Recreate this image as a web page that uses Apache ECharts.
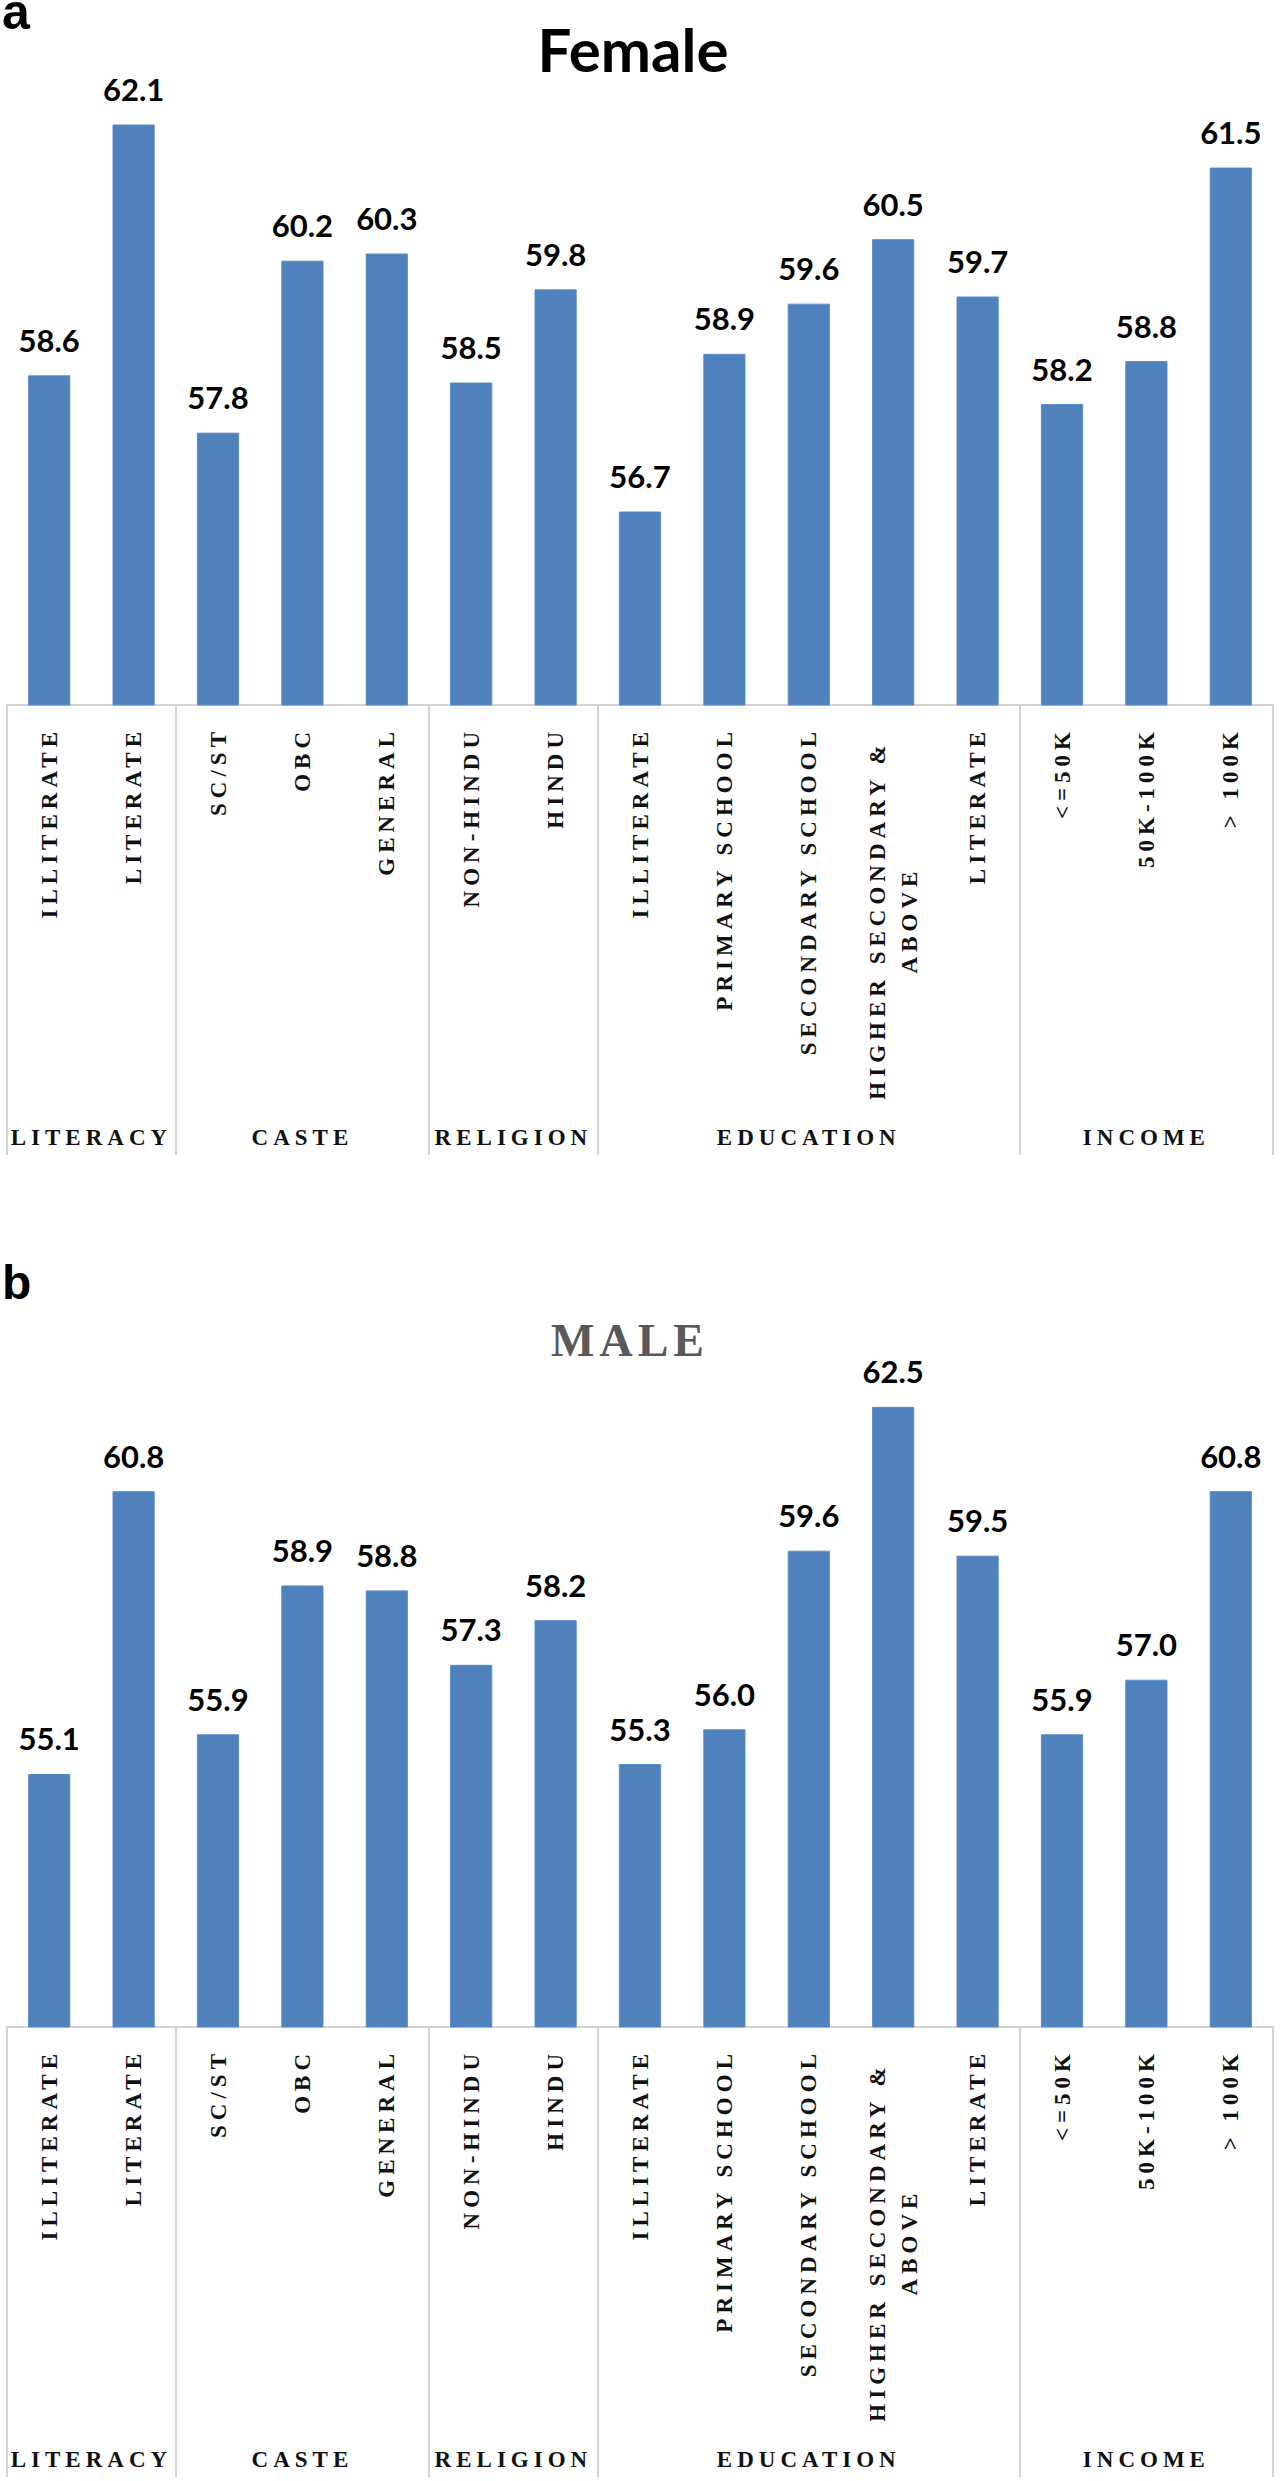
<!DOCTYPE html>
<html><head><meta charset="utf-8">
<script src="https://cdn.jsdelivr.net/npm/echarts@6/dist/echarts.min.js"></script>
<style>
html,body{margin:0;padding:0;background:#fff;}
#chart{width:1281px;height:2481px;}
#chart text[style*="Serif"], #chart text[font-family*="Serif"], #chart tspan[style*="Serif"] { letter-spacing: 5px; }
</style></head><body><div id="chart"></div>
<script>
const categories = ['ILLITERATE','LITERATE','SC/ST','OBC','GENERAL','NON-HINDU','HINDU','ILLITERATE','PRIMARY SCHOOL','SECONDARY SCHOOL','HIGHER SECONDARY &\nABOVE','LITERATE','<=50K','50K-100K','> 100K'];
const groups = ['LITERACY','CASTE','RELIGION','EDUCATION','INCOME'];
const groupSizes = [2,3,2,5,3];
const femaleValues = [58.6,62.1,57.8,60.2,60.3,58.5,59.8,56.7,58.9,59.6,60.5,59.7,58.2,58.8,61.5];
const maleValues = [55.1,60.8,55.9,58.9,58.8,57.3,58.2,55.3,56.0,59.6,62.5,59.5,55.9,57.0,60.8];
const panelTitles = ['Female','MALE'];
const panelLetters = ['a','b'];

const yMins = [54, 50];
const yMax = 63;
const gridTops = [60, 1382];
const gridH = 645;

const groupStarts = [];
{ let s = 0; groupSizes.forEach(n => { groupStarts.push(s); s += n; }); }

const chart = echarts.init(document.getElementById('chart'), null, {renderer:'svg'});

const serif = 'Liberation Serif';
// two-line label: centred lines, pushed away from the axis
const axisCategories = categories.map(c => c.indexOf('\n') >= 0
  ? {value:c, textStyle:{align:'center', padding:[0, 386, 0, 0], lineHeight:32}}
  : c);

function xAxis(i){
  return {
    type:'category', gridIndex:i, data:axisCategories,
    axisLine:{show:true, lineStyle:{color:'#d4d4d4', width:2}},
    axisTick:{show:true, length:450, interval:(idx)=>groupStarts.includes(idx), lineStyle:{color:'#d4d4d4', width:2}},
    axisLabel:{interval:0, rotate:90, margin:22, fontFamily:serif, fontWeight:'bold', fontSize:23, color:'#111', hideOverlap:false, lineHeight:32}
  };
}
function series(i, vals){
  return {
    type:'bar', xAxisIndex:i, yAxisIndex:i, data:vals, barCategoryGap:'50%',
    itemStyle:{color:'#4F81BD', borderColor:'#5b8cc8', borderWidth:1},
    label:{show:true, position:'top', distance:20, formatter:p=>p.value.toFixed(1), fontFamily:'Lato', fontWeight:'bold', fontSize:31, color:'#000', lineHeight:31},
    silent:true
  };
}
chart.setOption({
  animation:false,
  backgroundColor:'#fff',
  title:[
    {text:panelTitles[0], left:628, textAlign:'center', top:14, textStyle:{fontFamily:'Lato', fontWeight:'bold', fontSize:60, color:'#000'}},
    {text:panelTitles[1], left:625, textAlign:'center', top:1312, textStyle:{fontFamily:serif, fontWeight:'bold', fontSize:46, color:'#595959'}}
  ],
  grid:[
    {left:7, right:8, top:gridTops[0], height:gridH},
    {left:7, right:8, top:gridTops[1], height:gridH}
  ],
  xAxis:[xAxis(0), xAxis(1)],
  yAxis:[
    {type:'value', gridIndex:0, min:yMins[0], max:yMax, show:false},
    {type:'value', gridIndex:1, min:yMins[1], max:yMax, show:false}
  ],
  series:[series(0, femaleValues), series(1, maleValues)]
});

const graphics = [];
graphics.push({type:'text', x:2, y:12, style:{text:panelLetters[0], fontFamily:'Liberation Sans', fontWeight:'bold', fontSize:50, lineHeight:24, fill:'#000', align:'left', verticalAlign:'middle'}});
graphics.push({type:'text', x:2, y:1282, style:{text:panelLetters[1], fontFamily:'Liberation Sans', fontWeight:'bold', fontSize:48, lineHeight:40, fill:'#000', align:'left', verticalAlign:'middle'}});
[0,1].forEach(p => {
  const yBase = chart.convertToPixel({yAxisIndex:p}, yMins[p]);
  groups.forEach((g,k) => {
    const a = groupStarts[k], b = a + groupSizes[k] - 1;
    const x = (chart.convertToPixel({xAxisIndex:p}, a) + chart.convertToPixel({xAxisIndex:p}, b)) / 2;
    graphics.push({type:'text', x:x, y:yBase + 432, style:{text:g, fontFamily:serif, fontWeight:'bold', fontSize:23, fill:'#111', align:'center', verticalAlign:'middle'}});
  });
});
chart.setOption({graphic:graphics});
</script></body></html>
